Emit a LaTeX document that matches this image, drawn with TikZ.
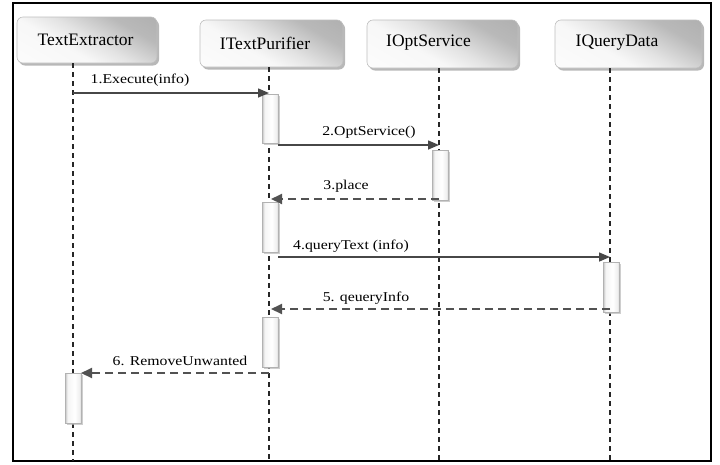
\documentclass[tikz,border=0pt]{standalone}
\usepackage{fontspec}
\setmainfont{Liberation Serif}
\newfontfamily\msgfont[FakeStretch=1.17]{Liberation Serif}
\usetikzlibrary{shadows,arrows.meta}

% shadings for participant boxes and activation bars
\pgfdeclarehorizontalshading{actshade}{100bp}{color(0bp)=(gray!50); color(25bp)=(gray!50);
  color(33bp)=(gray!8); color(55bp)=(white); color(70bp)=(gray!12); color(75bp)=(gray!30); color(100bp)=(gray!30)}
\pgfdeclareverticalshading{boxshade}{100bp}{color(0bp)=(gray!70); color(30bp)=(gray!55);
  color(48bp)=(gray!22); color(60bp)=(gray!6); color(100bp)=(white)}

\begin{document}
\begin{tikzpicture}[x=1pt,y=-1pt,
  objbox/.style={draw=gray!50, line width=0.6pt, rounded corners=6pt, shading=boxshade,
    shading angle=150,
    drop shadow={shadow xshift=2pt, shadow yshift=-2.5pt, fill=gray!65, opacity=0.85},
    inner sep=0pt},
  objtext/.style={font=\fontsize{17.5}{20}\selectfont, text=black, inner sep=0pt},
  lifeline/.style={draw=black!85, line width=1.3pt, dash pattern=on 5pt off 4pt},
  actbar/.style={draw=gray!60, line width=0.5pt, shading=actshade,
    minimum width=16pt, inner sep=0pt,
    drop shadow={shadow xshift=1.5pt, shadow yshift=-2pt, fill=gray!55, opacity=0.7}},
  callmsg/.style={draw=black!72, line width=1.5pt, -{Triangle[length=11pt,width=9pt]}},
  retmsg/.style={draw=black!68, line width=2pt, dash pattern=on 8pt off 5pt,
    -{Triangle[length=11pt,width=10pt]}},
  msglabel/.style={font=\msgfont\fontsize{13.5}{16}\selectfont, text=black, inner sep=0pt}
]
\useasboundingbox (0,0) rectangle (720,464);

% outer frame
\draw[line width=2pt] (13,3) rectangle (711,461);

% participants
\node[objbox, minimum width=140pt, minimum height=46pt] (te) at (87,40) {};
\node[objbox, minimum width=143pt, minimum height=47pt] (tp) at (271.5,43.5) {};
\node[objbox, minimum width=151pt, minimum height=48pt] (os) at (442.5,44) {};
\node[objbox, minimum width=147pt, minimum height=48pt] (qd) at (628.5,44) {};
\node[objtext] (tet) at (85.5,40) {TextExtractor};
\node[objtext] (tpt) at (265,43) {ITextPurifier};
\node[objtext] (ost) at (428.5,43) {IOptService};
\node[objtext] (qdt) at (617,43) {IQueryData};

% lifeline ends
\coordinate (teb) at (73,461);
\coordinate (tpb) at (269,461);
\coordinate (osb) at (439,461);
\coordinate (qdb) at (610,461);
\coordinate (tet0) at (73,63);
\coordinate (tpt0) at (269,67);
\coordinate (ost0) at (439,68);
\coordinate (qdt0) at (610,68);
\draw[lifeline] (tet0) -- (teb);
\draw[lifeline] (tpt0) -- (tpb);
\draw[lifeline] (ost0) -- (osb);
\draw[lifeline] (qdt0) -- (qdb);

% activation bars
\node[actbar, minimum height=49pt] (a1) at (270,118.5) {};
\node[actbar, minimum height=50pt] (b1) at (440,175) {};
\node[actbar, minimum height=50pt] (a2) at (270,227) {};
\node[actbar, minimum height=50pt] (c1) at (611,287) {};
\node[actbar, minimum height=50pt] (a3) at (270,342) {};
\node[actbar, minimum height=50pt] (d1) at (73,398) {};

% message end points
\coordinate (m1s) at (73,93);   \coordinate (m1e) at (269,93);
\coordinate (m2s) at (278,145); \coordinate (m2e) at (439,145);
\coordinate (m3s) at (439,199); \coordinate (m3e) at (271,199);
\coordinate (m4s) at (278,257); \coordinate (m4e) at (610,257);
\coordinate (m5s) at (610,309); \coordinate (m5e) at (271,309);
\coordinate (m6s) at (269,373); \coordinate (m6e) at (81,373);

% messages
\draw[callmsg] (m1s) -- (m1e);
\draw[callmsg] (m2s) -- (m2e);
\draw[retmsg] (m3s) -- (m3e);
\draw[callmsg] (m4s) -- (m4e);
\draw[retmsg] (m5s) -- (m5e);
\draw[retmsg] (m6s) -- (m6e);

% message labels
\node[msglabel] (l1) at (140,80) {1.Execute(info)};
\node[msglabel] (l2) at (369,132) {2.OptService()};
\node[msglabel] (l3) at (346,186) {3.place};
\node[msglabel] (l4) at (351,246) {4.queryText (info)};
\node[msglabel] (l5) at (366,298) {5. qeueryInfo};
\node[msglabel] (l6) at (180,361) {6. RemoveUnwanted};
\end{tikzpicture}
\end{document}
